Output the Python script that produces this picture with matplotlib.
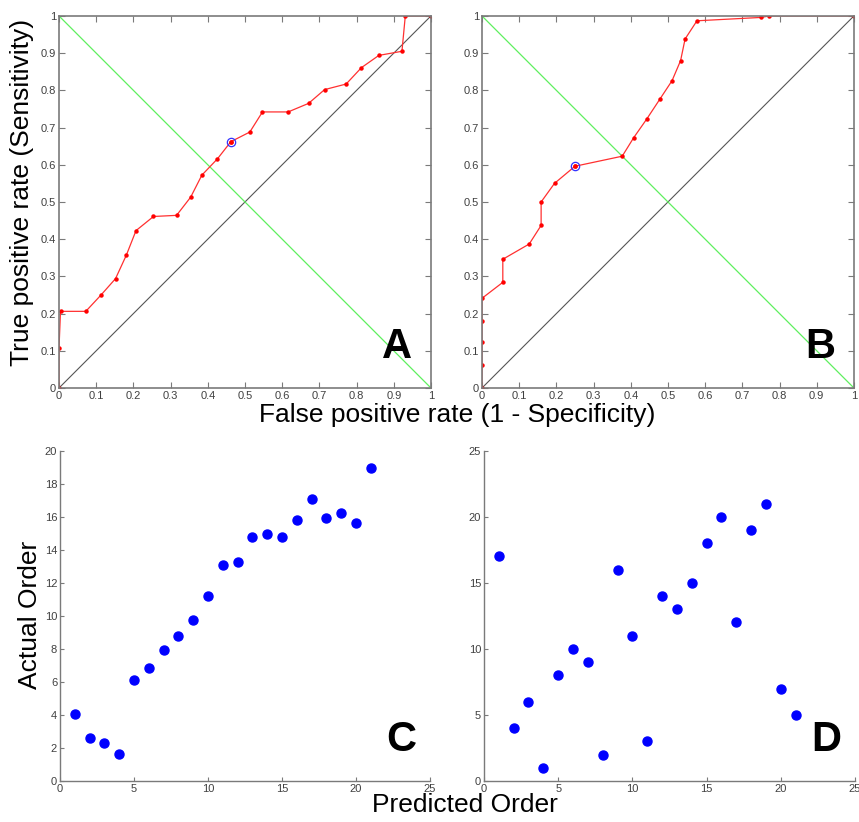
import matplotlib
matplotlib.use('Agg')
import matplotlib.pyplot as plt
import numpy as np

plt.rcParams['font.family'] = ['Liberation Sans', 'DejaVu Sans']

# ROC curve, panel A
fpr_a = [0, 0, 0.004, 0.072, 0.113, 0.152, 0.181, 0.207, 0.254, 0.316, 0.354, 0.384,
         0.426, 0.462, 0.513, 0.547, 0.616, 0.671, 0.714, 0.772, 0.813, 0.860, 0.922,
         0.931, 1.0]
tpr_a = [0, 0.107, 0.206, 0.206, 0.25, 0.294, 0.357, 0.423, 0.461, 0.464, 0.513, 0.572,
         0.616, 0.662, 0.688, 0.742, 0.742, 0.765, 0.802, 0.817, 0.861, 0.894, 0.905,
         1.0, 1.0]
best_a = (0.462, 0.662)

# ROC curve, panel B
fpr_b = [0, 0, 0, 0, 0, 0.056, 0.056, 0.127, 0.159, 0.159, 0.195, 0.250, 0.377, 0.408,
         0.443, 0.478, 0.511, 0.534, 0.546, 0.578, 0.75, 0.773, 1.0]
tpr_b = [0, 0.061, 0.123, 0.179, 0.241, 0.284, 0.346, 0.387, 0.437, 0.5, 0.550, 0.596,
         0.623, 0.673, 0.723, 0.776, 0.826, 0.880, 0.938, 0.987, 0.996, 1.0, 1.0]
best_b = (0.250, 0.596)

# predicted vs actual order
pred_order = np.arange(1, 22)
actual_c = [4.04, 2.59, 2.30, 1.64, 6.12, 6.85, 7.94, 8.77, 9.76, 11.23, 13.05, 13.25,
            14.77, 14.97, 14.77, 15.80, 17.05, 15.90, 16.20, 15.62, 18.97]
actual_d = [17, 4, 6, 1, 8, 10, 9, 2, 16, 11, 3, 14, 13, 15, 18, 20, 12, 19, 21, 7, 5]

fig = plt.figure(figsize=(8.59, 8.22), dpi=100)

tick_color = '#404040'
spine_color = '#7a7a7a'


def roc_panel(ax, fpr, tpr, best, letter):
    ax.plot([0, 1], [0, 1], color='#555555', lw=0.8)
    ax.plot([0, 1], [1, 0], color='#5fef5f', lw=0.9)
    ax.plot(fpr, tpr, color='#ff3030', lw=0.9, marker='o', markersize=2.2,
            markerfacecolor='red', markeredgecolor='red')
    ax.plot(best[0], best[1], 'o', markersize=6, markerfacecolor='none',
            markeredgecolor='#3333ff', markeredgewidth=0.9)
    ax.plot(best[0], best[1], 'o', markersize=2.2, color='red')
    ax.set_xlim(0, 1)
    ax.set_ylim(0, 1)
    ticks = np.arange(0, 1.01, 0.1)
    labels = ['0'] + ['%.1f' % t for t in ticks[1:-1]] + ['1']
    ax.set_xticks(ticks)
    ax.set_xticklabels(labels)
    ax.set_yticks(ticks)
    ax.set_yticklabels(labels)
    ax.tick_params(direction='in', top=True, right=True, length=4, width=0.8,
                   color=spine_color, labelsize=8, labelcolor=tick_color, pad=2)
    for s in ax.spines.values():
        s.set_color(spine_color)
        s.set_linewidth(1.2)
    ax.text(0.95, 0.056, letter, transform=ax.transAxes, ha='right', va='bottom',
            fontsize=30, fontweight='bold')


def order_panel(ax, actual, ymax, ystep, letter):
    ax.plot(pred_order, actual, 'o', color='#0000ff', markersize=6.5)
    ax.set_xlim(0, 25)
    ax.set_ylim(0, ymax)
    ax.set_xticks(np.arange(0, 26, 5))
    ax.set_yticks(np.arange(0, ymax + 1, ystep))
    ax.spines['top'].set_visible(False)
    ax.spines['right'].set_visible(False)
    for s in ['left', 'bottom']:
        ax.spines[s].set_color(spine_color)
        ax.spines[s].set_linewidth(1.0)
    ax.tick_params(direction='in', length=3, width=0.8, color=spine_color,
                   labelsize=8, labelcolor=tick_color, pad=2)
    ax.text(0.963, 0.064, letter, transform=ax.transAxes, ha='right', va='bottom',
            fontsize=30, fontweight='bold')


ax_a = fig.add_axes([0.0687, 0.528, 0.433, 0.4526])
roc_panel(ax_a, fpr_a, tpr_a, best_a, 'A')
ax_b = fig.add_axes([0.5611, 0.528, 0.433, 0.4526])
roc_panel(ax_b, fpr_b, tpr_b, best_b, 'B')
ax_c = fig.add_axes([0.0698, 0.0499, 0.4307, 0.4018])
order_panel(ax_c, actual_c, 20, 2, 'C')
ax_d = fig.add_axes([0.5634, 0.0499, 0.4319, 0.4018])
order_panel(ax_d, actual_d, 25, 5, 'D')

# shared axis labels
fig.text(0.532, 0.495, 'False positive rate (1 - Specificity)', ha='center', va='center',
         fontsize=19)
fig.text(0.026, 0.766, 'True positive rate (Sensitivity)', ha='center', va='center',
         rotation=90, fontsize=19)
fig.text(0.541, 0.021, 'Predicted Order', ha='center', va='center', fontsize=19)
fig.text(0.035, 0.252, 'Actual Order', ha='center', va='center', rotation=90, fontsize=19)

fig.savefig('out.png', dpi=100)
